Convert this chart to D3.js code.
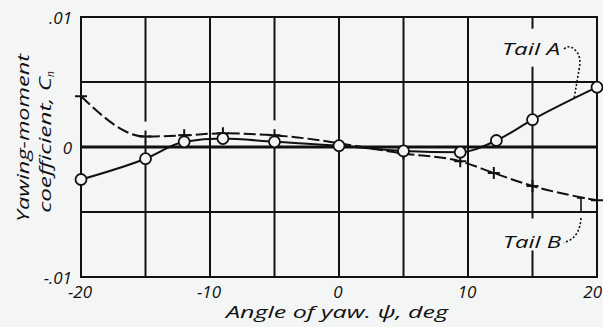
<!DOCTYPE html>
<html>
<head>
<meta charset="utf-8">
<script src="https://cdn.jsdelivr.net/npm/d3@7"></script>
<style>
  html, body { margin:0; padding:0; background:#f4f6f5; }
  svg { display:block; }
  text { font-family:"Open Sans", "DejaVu Sans", sans-serif; font-style:italic; fill:#111; }
</style>
</head>
<body>
<script>
// yaw angle (deg) and yawing-moment coefficient Cn
const tailA_psi = [-20, -15, -12, -9, -5, 0, 5, 9.4, 12.2, 15, 20];
const tailA_cn  = [-0.0025, -0.0009, 0.0004, 0.00065, 0.0004, 0.0001, -0.0003, -0.0004, 0.0005, 0.0021, 0.0046];
const tailB_psi = [-20, -15, -12, -9, -5, 5, 9.4, 12, 15, 20];
const tailB_cn  = [0.0039, 0.0008, 0.0009, 0.00105, 0.0009, -0.0005, -0.0011, -0.002, -0.003, -0.0041];

const xTicks = [-20, -10, 0, 10, 20];
const xTickLabels = ["-20", "-10", "0", "10", "20"];
const yTicks = [0.01, 0, -0.01];
const yTickLabels = [".01", "0", "-.01"];
const xGrid = [-15, -10, -5, 0, 5, 10, 15];
const yGrid = [0.005, -0.005];

const W = 603, H = 327;
const BG = "#f4f6f5", INK = "#111";

const svg = d3.select("body").append("svg")
  .attr("width", W).attr("height", H);
svg.append("rect").attr("width", W).attr("height", H).attr("fill", BG);

const x = d3.scaleLinear().domain([-20, 20]).range([81, 597]);
const y = d3.scaleLinear().domain([-0.01, 0.01]).range([277, 17]);

// grid
const g = svg.append("g").attr("stroke", INK).attr("fill", "none");
g.selectAll("line.vx").data(xGrid).enter().append("line")
  .attr("x1", d => x(d)).attr("x2", d => x(d))
  .attr("y1", y(0.01)).attr("y2", y(-0.01))
  .attr("stroke-width", 2);
g.selectAll("line.hy").data(yGrid).enter().append("line")
  .attr("y1", d => y(d)).attr("y2", d => y(d))
  .attr("x1", x(-20)).attr("x2", x(20))
  .attr("stroke-width", 2);

const A = tailA_psi.map((p, i) => ({psi: p, cn: tailA_cn[i]}));
const B = tailB_psi.map((p, i) => ({psi: p, cn: tailB_cn[i]}));

// gaps in the grid above the + symbols, as drafted
svg.selectAll("circle.halo").data(B.filter(d => d.cn > 0.0005 && d.cn < 0.002)).enter().append("circle")
  .attr("cx", d => x(d.psi)).attr("cy", d => y(d.cn) - 5).attr("r", 10)
  .attr("fill", BG);

g.append("line")
  .attr("x1", x(-20)).attr("x2", x(20))
  .attr("y1", y(0)).attr("y2", y(0))
  .attr("stroke-width", 3);

// label backgrounds break the grid like the original drafting
svg.append("rect").attr("x", x(13.2)).attr("y", y(0.0091)).attr("width", 70).attr("height", 38).attr("fill", BG);
svg.append("rect").attr("x", x(13.2)).attr("y", y(-0.0055)).attr("width", 70).attr("height", 32).attr("fill", BG);

// frame
svg.append("rect")
  .attr("x", x(-20)).attr("y", y(0.01))
  .attr("width", x(20) - x(-20)).attr("height", y(-0.01) - y(0.01))
  .attr("fill", "none").attr("stroke", INK).attr("stroke-width", 2);

// curves
const line = d3.line().x(d => x(d.psi)).y(d => y(d.cn)).curve(d3.curveMonotoneX);

svg.append("path").datum(B).attr("d", line)
  .attr("fill", "none").attr("stroke", INK).attr("stroke-width", 2)
  .attr("stroke-dasharray", "12,4");
svg.append("path").datum(A).attr("d", line)
  .attr("fill", "none").attr("stroke", INK).attr("stroke-width", 2);

// markers
svg.selectAll("path.plus").data(B).enter().append("path")
  .attr("d", d => `M${x(d.psi) - 6},${y(d.cn)}h12M${x(d.psi)},${y(d.cn) - 6}v12`)
  .attr("stroke", INK).attr("stroke-width", 2);
svg.selectAll("circle.pt").data(A).enter().append("circle")
  .attr("cx", d => x(d.psi)).attr("cy", d => y(d.cn)).attr("r", 5.5)
  .attr("fill", BG).attr("stroke", INK).attr("stroke-width", 1.8);

// tick labels
svg.selectAll("text.xt").data(xTicks).enter().append("text")
  .attr("x", d => d === 20 ? 602 : x(d) - 1).attr("y", 298)
  .attr("text-anchor", d => d === 20 ? "end" : "middle").attr("font-size", 17)
  .text((d, i) => xTickLabels[i]);
svg.selectAll("text.yt").data(yTicks).enter().append("text")
  .attr("x", 72).attr("y", d => y(d) + 7)
  .attr("text-anchor", "end").attr("font-size", 17)
  .text((d, i) => yTickLabels[i]);

// axis titles
svg.append("text").attr("x", 337).attr("y", 318)
  .attr("text-anchor", "middle").attr("font-size", 16)
  .attr("textLength", 222).attr("lengthAdjust", "spacingAndGlyphs")
  .text("Angle of yaw. \u03c8, deg");
svg.append("text").attr("transform", "translate(29,138) rotate(-90)")
  .attr("text-anchor", "middle").attr("font-size", 16)
  .attr("textLength", 168).attr("lengthAdjust", "spacingAndGlyphs")
  .text("Yawing-moment");
const t2 = svg.append("text").attr("transform", "translate(51,142) rotate(-90)")
  .attr("text-anchor", "middle").attr("font-size", 16);
t2.append("tspan").attr("textLength", 136).attr("lengthAdjust", "spacingAndGlyphs").text("coefficient, C");
t2.append("tspan").attr("font-size", 10).attr("dy", 3).text("n");

// tail labels and leaders
svg.append("text").attr("x", 502).attr("y", 55).attr("font-size", 16)
  .attr("textLength", 58).attr("lengthAdjust", "spacingAndGlyphs").text("Tail A");
svg.append("text").attr("x", 503).attr("y", 248).attr("font-size", 16)
  .attr("textLength", 58).attr("lengthAdjust", "spacingAndGlyphs").text("Tail B");

svg.append("path")
  .attr("d", "M564,49 Q570,44 575,50 Q582,56 579,70 L574,99")
  .attr("fill", "none").attr("stroke", INK).attr("stroke-width", 1.6)
  .attr("stroke-dasharray", "2,2");
svg.append("path")
  .attr("d", "M577,198 h8 M581,198 v14")
  .attr("fill", "none").attr("stroke", INK).attr("stroke-width", 1.6);
svg.append("path")
  .attr("d", "M581,218 Q580,234 570,240 L564,243")
  .attr("fill", "none").attr("stroke", INK).attr("stroke-width", 1.6)
  .attr("stroke-dasharray", "2,2");
</script>
</body>
</html>
